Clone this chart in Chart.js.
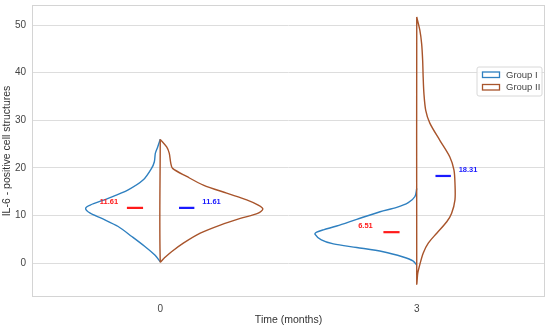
<!DOCTYPE html>
<html>
<head>
<meta charset="utf-8">
<script src="https://cdn.jsdelivr.net/npm/chart.js@4/dist/chart.umd.min.js"></script>
<style>
  body { margin: 0; background: #fff; }
  #wrap { width: 550px; height: 328px; }
</style>
</head>
<body>
<div id="wrap"><canvas id="grafico"></canvas></div>
<script>
// categorias e grupos
const categorias = ['0', '3'];
const grupos = ['Group I', 'Group II'];
const yTicks = [0, 10, 20, 30, 40, 50];
const cores = ['#2f80c0', '#a8542b'];

// contornos dos violinos: valor (y) e meia largura da densidade
const g1t0Y = [26.0, 24.4, 23.1, 21.3, 19.9, 17.5, 15.4, 13.6, 12.2, 11.5, 10.5, 9.4, 7.7, 5.6, 3.5, 1.7, 0.3];
const g1t0W = [0, 0.010, 0.019, 0.023, 0.034, 0.066, 0.125, 0.203, 0.273, 0.291, 0.273, 0.228, 0.164, 0.111, 0.060, 0.021, 0];
const g2t0Y = [26.0, 24.4, 23.1, 21.0, 19.9, 18.2, 16.4, 14.7, 13.3, 12.2, 11.4, 10.5, 9.4, 8.0, 6.3, 4.2, 2.4, 1.0, 0.3];
const g2t0W = [0, 0.025, 0.035, 0.041, 0.048, 0.103, 0.168, 0.259, 0.337, 0.382, 0.400, 0.382, 0.312, 0.234, 0.156, 0.090, 0.044, 0.014, 0];
const g1t3Y = [15.7, 14.0, 12.7, 11.7, 10.8, 9.2, 7.8, 7.0, 6.5, 6.1, 4.9, 4.05, 3.3, 2.4, 1.3, 0.5, -0.4];
const g1t3W = [0, 0.007, 0.033, 0.078, 0.143, 0.234, 0.312, 0.364, 0.390, 0.397, 0.372, 0.325, 0.234, 0.131, 0.053, 0.015, 0];
const g2t3Y = [51.7, 48.9, 46.1, 42.6, 39.1, 35.6, 32.1, 29.4, 25.8, 22.3, 19.6, 16.8, 13.3, 10.5, 8.7, 6.3, 4.2, 2.1, -0.7, -2.1, -4.3];
const g2t3W = [0, 0.012, 0.019, 0.023, 0.025, 0.028, 0.035, 0.051, 0.090, 0.129, 0.145, 0.149, 0.149, 0.136, 0.117, 0.078, 0.045, 0.025, 0.010, 0.004, 0];

// médias
const mediasI = [11.61, 6.51];
const mediasII = [11.61, 18.31];

function meioViolino(pos, lado, ys, ws, fechar) {
    const pts = ys.map((y, i) => ({ x: pos + lado * ws[i], y: y }));
    if (fechar) pts.push({ x: pos, y: ys[0] }); // linha central
    return pts;
}

const violinos = [
    { g: 0, data: meioViolino(0, -1, g1t0Y, g1t0W, false) },
    { g: 0, data: meioViolino(1, -1, g1t3Y, g1t3W, false) },
    { g: 1, data: meioViolino(0, 1, g2t0Y, g2t0W, true) },
    { g: 1, data: meioViolino(1, 1, g2t3Y, g2t3W, true) }
];

const datasets = violinos.map(v => ({
    label: grupos[v.g],
    data: v.data,
    order: v.g === 0 ? 3 : 2,
    showLine: true,
    borderColor: cores[v.g],
    borderWidth: 1.4,
    pointRadius: 0,
    tension: 0.3,
    fill: false
}));

// linhas das médias
mediasI.forEach((m, i) => {
    datasets.push({ data: [{ x: i - 0.13, y: m }, { x: i - 0.067, y: m }], showLine: true, order: 1,
        borderColor: '#ff1a1a', borderWidth: 2.2, pointRadius: 0 });
});
mediasII.forEach((m, i) => {
    datasets.push({ data: [{ x: i + 0.073, y: m }, { x: i + 0.133, y: m }], showLine: true, order: 1,
        borderColor: '#1a1aff', borderWidth: 2.2, pointRadius: 0 });
});

const extras = {
    id: 'extras',
    afterDraw(chart) {
        const ctx = chart.ctx;
        const a = chart.chartArea;
        const xs = chart.scales.x, ys = chart.scales.y;
        ctx.save();
        // moldura
        ctx.strokeStyle = '#d4d4d4';
        ctx.lineWidth = 1;
        ctx.strokeRect(a.left + 0.5, a.top + 0.5, a.right - a.left - 1, a.bottom - a.top - 1);

        // rótulos das médias
        ctx.font = 'bold 7.5px "Liberation Sans", Arial, sans-serif';
        ctx.textAlign = 'center';
        ctx.textBaseline = 'middle';
        mediasI.forEach((m, i) => {
            ctx.fillStyle = '#ff1a1a';
            ctx.fillText(m.toFixed(2), xs.getPixelForValue(i - 0.2), ys.getPixelForValue(m + 1.3));
        });
        mediasII.forEach((m, i) => {
            ctx.fillStyle = '#1a1aff';
            ctx.fillText(m.toFixed(2), xs.getPixelForValue(i + 0.2), ys.getPixelForValue(m + 1.3));
        });

        // legenda
        const lx = a.right - 68, ly = a.top + 62;
        ctx.fillStyle = 'rgba(255,255,255,0.85)';
        ctx.strokeStyle = '#d8d8d8';
        ctx.beginPath();
        ctx.roundRect(lx, ly, 65, 29, 2);
        ctx.fill();
        ctx.stroke();
        ctx.font = '9.5px "Liberation Sans", Arial, sans-serif';
        ctx.textAlign = 'left';
        grupos.forEach((g, i) => {
            const yy = ly + 7.5 + i * 12.5;
            ctx.strokeStyle = cores[i];
            ctx.lineWidth = 1.3;
            ctx.strokeRect(lx + 5.5, yy - 2.5, 17, 5.5);
            ctx.fillStyle = '#444';
            ctx.fillText(g, lx + 29, yy + 0.5);
        });
        ctx.restore();
    }
};

const fonte = '"Liberation Sans", Arial, sans-serif';

window.onload = function () {
    const ctx = document.getElementById('grafico').getContext('2d');
    new Chart(ctx, {
        type: 'scatter',
        data: { datasets: datasets },
        plugins: [extras],
        options: {
            responsive: true,
            maintainAspectRatio: false,
            animation: false,
            layout: { padding: { top: 5, right: 5, left: 0, bottom: 0 } },
            plugins: { legend: { display: false }, tooltip: { enabled: false } },
            scales: {
                x: {
                    type: 'linear',
                    min: -0.5,
                    max: 1.5,
                    afterBuildTicks: ax => { ax.ticks = categorias.map((c, i) => ({ value: i })); },
                    afterFit: ax => { ax.height = 31; ax.paddingLeft = 0; ax.paddingRight = 0; },
                    grid: { display: false, drawTicks: false },
                    border: { display: false },
                    ticks: {
                        padding: 6,
                        color: '#444',
                        font: { size: 10, family: fonte },
                        callback: v => categorias[v]
                    },
                    title: {
                        display: true,
                        text: 'Time (months)',
                        color: '#333',
                        padding: { top: 0, bottom: 2 },
                        font: { size: 10.5, family: fonte }
                    }
                },
                y: {
                    min: -7.1,
                    max: 54.2,
                    afterBuildTicks: ax => { ax.ticks = yTicks.map(v => ({ value: v })); },
                    afterFit: ax => { ax.width = 32; ax.paddingTop = 0; ax.paddingBottom = 0; },
                    grid: { color: '#dddddd', lineWidth: 1, drawTicks: false },
                    border: { display: false },
                    ticks: {
                        padding: 6,
                        color: '#444',
                        font: { size: 10, family: fonte }
                    },
                    title: {
                        display: true,
                        text: 'IL-6 - positive cell structures',
                        color: '#333',
                        padding: { top: 1, bottom: 0 },
                        font: { size: 10.5, family: fonte }
                    }
                }
            }
        }
    });
};
</script>
</body>
</html>
